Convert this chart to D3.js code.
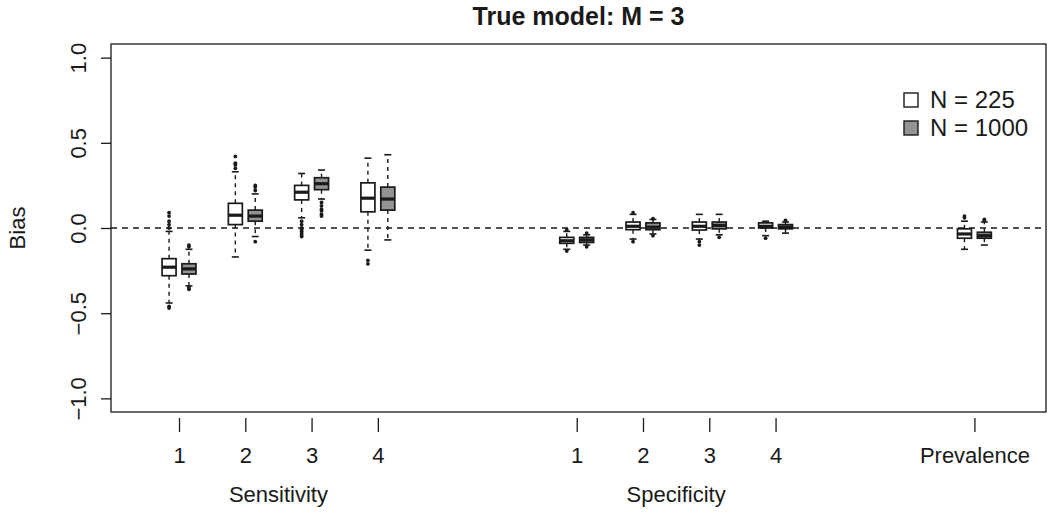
<!DOCTYPE html>
<html><head><meta charset="utf-8">
<script src="https://cdn.jsdelivr.net/npm/d3@7"></script>
<style>body{margin:0;background:#fff;} svg{display:block;font-family:"Liberation Sans",Arial,Helvetica,sans-serif;}</style>
</head><body><svg id="c" width="1050" height="513"></svg>
<script>
const title = "True model: M = 3";
const yLabel = "Bias";
const groupNames = ["Sensitivity", "Specificity", ""];
const groupCategories = [["1","2","3","4"], ["1","2","3","4"], ["Prevalence"]];
const seriesNames = ["N = 225", "N = 1000"];
const yTicks = [-1.0, -0.5, 0.0, 0.5, 1.0];
// [lower whisker, Q1, median, Q3, upper whisker]
const stats225 = [
  [-0.44, -0.28, -0.23, -0.18, -0.02],
  [-0.17, 0.02, 0.075, 0.145, 0.33],
  [0.06, 0.165, 0.21, 0.25, 0.32],
  [-0.13, 0.095, 0.175, 0.265, 0.41],
  [-0.125, -0.09, -0.075, -0.055, -0.02],
  [-0.065, -0.01, 0.01, 0.035, 0.08],
  [-0.065, -0.012, 0.01, 0.035, 0.08],
  [-0.045, 0.0, 0.01, 0.03, 0.04],
  [-0.125, -0.06, -0.035, -0.005, 0.04]
];
const stats1000 = [
  [-0.34, -0.27, -0.24, -0.21, -0.125],
  [-0.05, 0.04, 0.07, 0.105, 0.2],
  [0.17, 0.225, 0.26, 0.295, 0.34],
  [-0.07, 0.105, 0.17, 0.24, 0.43],
  [-0.1, -0.085, -0.07, -0.055, -0.04],
  [-0.035, -0.01, 0.005, 0.03, 0.05],
  [-0.04, -0.005, 0.015, 0.035, 0.08],
  [-0.03, -0.005, 0.005, 0.02, 0.035],
  [-0.1, -0.06, -0.045, -0.025, 0.035]
];
const outliers225 = [
  [0.0, 0.02, 0.04, 0.07, 0.09, -0.46, -0.47],
  [0.35, 0.37, 0.38, 0.42],
  [0.04, 0.02, 0.0, -0.01, -0.02, -0.03, -0.04, -0.05],
  [-0.19, -0.21],
  [-0.01, -0.135],
  [0.09, -0.08],
  [-0.08, -0.1],
  [-0.06],
  [0.06, 0.07]
];
const outliers1000 = [
  [-0.10, -0.11, -0.35, -0.36],
  [0.22, 0.24, 0.25, -0.08],
  [0.15, 0.13, 0.11, 0.10, 0.08, 0.07],
  [],
  [-0.03, -0.11],
  [0.055, -0.045],
  [-0.055],
  [0.045],
  [0.045, 0.05]
];

const fills = ["#ffffff", "#939393"];
const ink = "#1a1a1a";
const svg = d3.select("#c");
const L = 111, R = 1046, T = 44, B = 412;

// slot layout: groups separated by 2 empty slots
const slots = [], groupCenters = [];
let s = 0;
groupCategories.forEach((cats, gi) => {
  const start = s;
  cats.forEach(c => { slots.push({cat: c, pos: s}); s++; });
  groupCenters.push((start + s - 1) / 2);
  s += 2;
});
const lastPos = slots[slots.length - 1].pos;
const x = d3.scaleLinear().domain([-1.026, lastPos + 1.08]).range([L, R]);
const y = d3.scaleLinear().domain([-1.08, 1.08]).range([B, T]);

// frame
svg.append("rect").attr("x", L).attr("y", T).attr("width", R - L).attr("height", B - T)
  .attr("fill", "none").attr("stroke", ink).attr("stroke-width", 1.3);

// zero line
svg.append("line").attr("x1", L).attr("x2", R).attr("y1", y(0)).attr("y2", y(0))
  .attr("stroke", ink).attr("stroke-width", 1.3).attr("stroke-dasharray", "6,5");

const axisFont = 22;

// y axis
const yAxis = svg.append("g").attr("transform", `translate(${L},0)`)
  .call(d3.axisLeft(y).tickValues(yTicks).tickSize(10).tickFormat(d3.format(".1f")));
yAxis.select(".domain").remove();
yAxis.selectAll("line").attr("stroke", ink).attr("stroke-width", 1.3);
yAxis.selectAll("text").attr("font-size", axisFont).attr("fill", ink)
  .attr("text-anchor", "middle").attr("x", null).attr("y", null)
  .attr("transform", "translate(-33,0) rotate(-90)").attr("dy", "0.35em");
svg.append("text").attr("transform", `translate(17,${y(0)}) rotate(-90)`)
  .attr("text-anchor", "middle").attr("dy", "0.35em").attr("font-size", axisFont)
  .attr("fill", ink).text(yLabel);

// x axis (detached ticks)
const xAxis = svg.append("g").attr("transform", `translate(0,${B + 6})`)
  .call(d3.axisBottom(x).tickValues(slots.map(d => d.pos)).tickSize(14)
    .tickFormat((d, i) => slots[i].cat));
xAxis.select(".domain").remove();
xAxis.selectAll("line").attr("stroke", ink).attr("stroke-width", 1.3);
xAxis.selectAll("text").attr("font-size", axisFont)
  .attr("fill", ink).attr("y", 0).attr("dy", 45);

groupNames.forEach((g, i) => {
  if (!g) return;
  svg.append("text").attr("x", x(groupCenters[i])).attr("y", 502)
    .attr("text-anchor", "middle").attr("font-size", axisFont)
    .attr("fill", ink).text(g);
});

// title
svg.append("text").attr("x", (L + R) / 2).attr("y", 25).attr("text-anchor", "middle")
  .attr("font-size", 25).attr("font-weight", "bold").attr("fill", ink).text(title);

// boxes
const unit = x(1) - x(0);
const off = 0.15 * unit, bw = 14, cap = 7;
[[stats225, outliers225], [stats1000, outliers1000]].forEach(([st, out], si) => {
  const g = svg.append("g");
  st.forEach((d, i) => {
    const cx = x(slots[i].pos) + (si === 0 ? -off : off);
    const [lo, q1, med, q3, hi] = d;
    g.append("line").attr("x1", cx).attr("x2", cx).attr("y1", y(q3)).attr("y2", y(hi))
      .attr("stroke", ink).attr("stroke-width", 1.4).attr("stroke-dasharray", "4,4");
    g.append("line").attr("x1", cx).attr("x2", cx).attr("y1", y(q1)).attr("y2", y(lo))
      .attr("stroke", ink).attr("stroke-width", 1.4).attr("stroke-dasharray", "4,4");
    [lo, hi].forEach(v => g.append("line").attr("x1", cx - cap / 2).attr("x2", cx + cap / 2)
      .attr("y1", y(v)).attr("y2", y(v)).attr("stroke", ink).attr("stroke-width", 1.6));
    g.append("rect").attr("x", cx - bw / 2).attr("y", y(q3)).attr("width", bw)
      .attr("height", Math.max(0.5, y(q1) - y(q3))).attr("fill", fills[si])
      .attr("stroke", ink).attr("stroke-width", 1.7);
    g.append("line").attr("x1", cx - bw / 2).attr("x2", cx + bw / 2)
      .attr("y1", y(med)).attr("y2", y(med)).attr("stroke", ink).attr("stroke-width", 3.2);
    out[i].forEach(v => g.append("circle").attr("cx", cx).attr("cy", y(v)).attr("r", 1.9)
      .attr("fill", ink));
  });
});

// legend
seriesNames.forEach((n, i) => {
  const ly = 100 + i * 28;
  svg.append("rect").attr("x", 904).attr("y", ly - 7).attr("width", 14).attr("height", 14)
    .attr("fill", fills[i]).attr("stroke", ink).attr("stroke-width", 1.4);
  svg.append("text").attr("x", 930).attr("y", ly).attr("dy", "0.35em")
    .attr("font-size", 24).attr("fill", ink).text(n);
});
</script></body></html>
